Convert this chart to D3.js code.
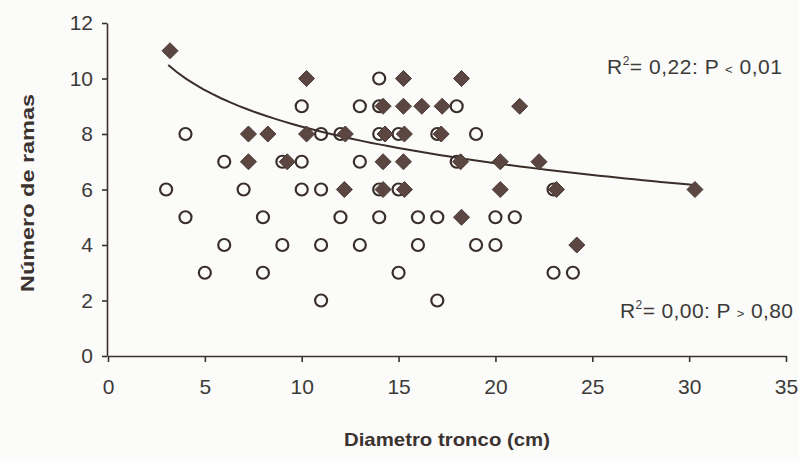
<!DOCTYPE html>
<html>
<head>
<meta charset="utf-8">
<script src="https://cdn.jsdelivr.net/npm/d3@7"></script>
<style>
  html, body { margin: 0; padding: 0; background: #fbfbfa; }
  svg { display: block; }
</style>
</head>
<body>
<svg id="chart" width="799" height="461"></svg>
<script>
// ---- Data ----
// Open circles: [diameter (cm), number of branches]
const circleX = [14, 10, 13, 14, 18, 4, 11, 12, 14, 15, 17, 19, 6, 9, 10, 13, 18,
                 3, 7, 10, 11, 14, 15, 23, 4, 8, 12, 14, 16, 17, 20, 21,
                 6, 9, 11, 13, 16, 19, 20, 5, 8, 15, 23, 24, 11, 17];
const circleY = [10, 9, 9, 9, 9, 8, 8, 8, 8, 8, 8, 8, 7, 7, 7, 7, 7,
                 6, 6, 6, 6, 6, 6, 6, 5, 5, 5, 5, 5, 5, 5, 5,
                 4, 4, 4, 4, 4, 4, 4, 3, 3, 3, 3, 3, 2, 2];
// Filled diamonds
const diamondX = [3.2, 10.25, 15.25, 18.25, 14.2, 15.25, 16.2, 17.25, 21.25,
                  7.25, 8.25, 10.25, 12.25, 14.3, 15.3, 17.2,
                  7.25, 9.25, 14.2, 15.25, 18.2, 20.25, 22.25,
                  12.2, 14.2, 15.3, 20.25, 23.15, 30.3, 18.25, 24.2];
const diamondY = [11, 10, 10, 10, 9, 9, 9, 9, 9,
                  8, 8, 8, 8, 8, 8, 8,
                  7, 7, 7, 7, 7, 7, 7,
                  6, 6, 6, 6, 6, 6, 5, 4];
// Logarithmic trend line of the diamond series: y = a + b*ln(x)
const trendA = 12.64;
const trendB = -1.9;
const trendRange = [3.11, 30.34];

const xTicks = [0, 5, 10, 15, 20, 25, 30, 35];
const yTicks = [0, 2, 4, 6, 8, 10, 12];
const xTitle = "Diametro tronco (cm)";
const yTitle = "Número de ramas";

// ---- Layout ----
const svg = d3.select("#chart");
const x = d3.scaleLinear().domain([0, 35]).range([108, 786]);
const y = d3.scaleLinear().domain([0, 12]).range([356, 23]);
const ink = "#3a302c";
const font = "'Liberation Sans', Arial, sans-serif";

// Axes
const xAxis = d3.axisBottom(x).tickValues(xTicks).tickSize(6).tickSizeOuter(0).tickPadding(17);
const yAxis = d3.axisLeft(y).tickValues(yTicks).tickSize(5).tickSizeOuter(0).tickPadding(9);

const gx = svg.append("g").attr("transform", `translate(0,${y(0)})`).call(xAxis);
const gy = svg.append("g").attr("transform", `translate(${x(0) - 1},0)`).call(yAxis);
[gx, gy].forEach(g => {
  g.select(".domain").attr("stroke", ink).attr("stroke-width", 1.6);
  g.selectAll(".tick line").attr("stroke", ink).attr("stroke-width", 1.6);
  g.selectAll(".tick text").attr("fill", "#3c3a39")
    .style("font-family", font).style("font-size", "21px");
});

// Axis titles
svg.append("text")
  .attr("x", 447).attr("y", 446)
  .attr("text-anchor", "middle")
  .attr("textLength", 206).attr("lengthAdjust", "spacingAndGlyphs")
  .style("font-family", font).style("font-size", "19px").style("font-weight", "bold")
  .attr("fill", "#3b3330")
  .text(xTitle);

svg.append("text")
  .attr("transform", "translate(34,193) rotate(-90)")
  .attr("text-anchor", "middle")
  .attr("textLength", 198).attr("lengthAdjust", "spacingAndGlyphs")
  .style("font-family", font).style("font-size", "19px").style("font-weight", "bold")
  .attr("fill", "#3b3330")
  .text(yTitle);

// Circles (open)
const circles = circleX.map((v, i) => ({ x: v, y: circleY[i] }));
svg.append("g").selectAll("circle").data(circles).join("circle")
  .attr("cx", d => x(d.x)).attr("cy", d => y(d.y)).attr("r", 6)
  .attr("fill", "#fbfbfa").attr("stroke", "#3a2e2a").attr("stroke-width", 2.2);

// Trend line
const trendXs = d3.range(0, 61).map(i => trendRange[0] + (trendRange[1] - trendRange[0]) * i / 60);
const line = d3.line().x(d => x(d)).y(d => y(trendA + trendB * Math.log(d)));
svg.append("path").datum(trendXs)
  .attr("d", line).attr("fill", "none")
  .attr("stroke", "#3a2e2a").attr("stroke-width", 2);

// Diamonds (filled)
const diamonds = diamondX.map((v, i) => ({ x: v, y: diamondY[i] }));
const dsz = 8;
svg.append("g").selectAll("path").data(diamonds).join("path")
  .attr("transform", d => `translate(${x(d.x)},${y(d.y)})`)
  .attr("d", `M0,${-dsz}L${dsz},0L0,${dsz}L${-dsz},0Z`)
  .attr("fill", "#5b4641").attr("stroke", "#4a3a35").attr("stroke-width", 1);

// Annotations
function annot(xp, yp, val, rel, pval, len) {
  const t = svg.append("text").attr("x", xp).attr("y", yp)
    .attr("textLength", len).attr("lengthAdjust", "spacing")
    .style("font-family", font).style("font-size", "21px").attr("fill", "#3c3a39");
  t.append("tspan").text("R");
  t.append("tspan").attr("dy", -9).style("font-size", "12px").text("2");
  t.append("tspan").attr("dy", 9).text("= " + val + ": P ");
  t.append("tspan").style("font-size", "13px").text(rel);
  t.append("tspan").text(" " + pval);
}
annot(607, 74, "0,22", "<", "0,01", 175);
annot(620, 318, "0,00", ">", "0,80", 173);
</script>
</body>
</html>
